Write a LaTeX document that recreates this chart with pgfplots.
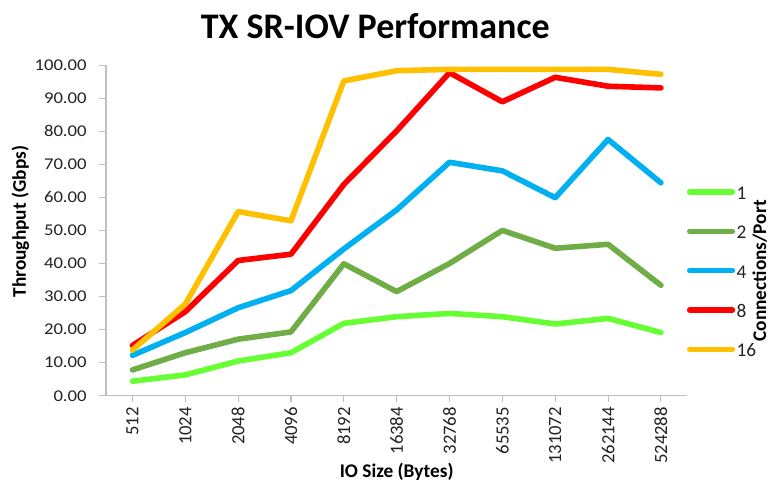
\documentclass[border=0pt]{standalone}
\usepackage{pgfplots}
\pgfplotsset{compat=1.18}
\usepackage{fontspec}
\setmainfont{Carlito}
\definecolor{c1}{HTML}{66FF33}
\definecolor{c2}{HTML}{70AD47}
\definecolor{c4}{HTML}{00B0F0}
\definecolor{c8}{HTML}{FF0000}
\definecolor{c16}{HTML}{FFC000}
\definecolor{axgray}{HTML}{BFBFBF}
\definecolor{txt}{HTML}{222222}
\begin{document}
\begin{tikzpicture}
\useasboundingbox (-79.5pt,-65.5pt) rectangle (498pt,296.8pt);
\begin{axis}[
  scale only axis,
  width=436pt, height=248pt,
  xmin=-0.5, xmax=10.5, ymin=0, ymax=100,
  axis lines=left,
  axis line style={-, axgray, line width=0.8pt},
  xtick={0,...,10},
  xticklabels={512,1024,2048,4096,8192,16384,32768,65535,131072,262144,524288},
  ytick={0,10,...,100},
  tick align=outside,
  major tick length=5pt,
  tick style={axgray, line width=0.8pt},
  x tick label style={rotate=90, anchor=east, font=\fontsize{14}{16}\selectfont, text=txt},
  y tick label style={font=\fontsize{14}{16}\selectfont, text=txt, yscale=0.88, xshift=-6pt},
  yticklabel style={/pgf/number format/.cd, fixed, fixed zerofill, precision=2, assume math mode=true},
  scaled y ticks=false,
  legend style={at={(435.5pt,158.5pt)}, anchor=north west, draw=none, fill=none, inner sep=0pt,
     font=\fontsize{14.5}{16}\selectfont, row sep=17.5pt,
     nodes={inner sep=1pt, text height=10pt, text depth=0pt, text=txt}},
  legend cell align=left,
  legend image code/.code={\draw[#1, line cap=round] (0pt,0.5pt) -- (32pt,0.5pt);},
  every axis plot/.append style={line width=4.2pt, line join=round, line cap=round},
  clip=false,
]
\addplot[c1] coordinates {(0,4.4)(1,6.3)(2,10.5)(3,13.0)(4,21.9)(5,23.9)(6,24.9)(7,23.9)(8,21.7)(9,23.4)(10,19.1)};
\addlegendentry{1}
\addplot[c2] coordinates {(0,7.8)(1,13.0)(2,17.1)(3,19.3)(4,39.9)(5,31.5)(6,40.0)(7,50.0)(8,44.6)(9,45.8)(10,33.4)};
\addlegendentry{2}
\addplot[c4] coordinates {(0,12.2)(1,19.1)(2,26.6)(3,31.8)(4,44.4)(5,56.2)(6,70.6)(7,68.0)(8,59.9)(9,77.5)(10,64.4)};
\addlegendentry{4}
\addplot[c8] coordinates {(0,15.2)(1,25.4)(2,40.9)(3,42.8)(4,63.9)(5,80.1)(6,97.7)(7,88.9)(8,96.3)(9,93.6)(10,93.1)};
\addlegendentry{8}
\addplot[c16] coordinates {(0,13.8)(1,27.7)(2,55.7)(3,52.9)(4,95.2)(5,98.3)(6,98.7)(7,98.7)(8,98.7)(9,98.7)(10,97.2)};
\addlegendentry{16}
\end{axis}
\node[font=\bfseries\fontsize{27}{30}\selectfont, text=black, anchor=base] at (202pt,268pt) {TX SR-IOV Performance};
\node[font=\bfseries\fontsize{14.5}{16}\selectfont, rotate=90, anchor=base, text=black] at (-60pt,130.5pt) {Throughput (Gbps)};
\node[font=\bfseries\fontsize{14.5}{16}\selectfont, anchor=base, text=black] at (218pt,-61.2pt) {IO Size (Bytes)};
\node[font=\bfseries\fontsize{14.5}{16}\selectfont, rotate=90, anchor=base, text=black] at (495pt,93.7pt) {Connections/Port};
\end{tikzpicture}
\end{document}
